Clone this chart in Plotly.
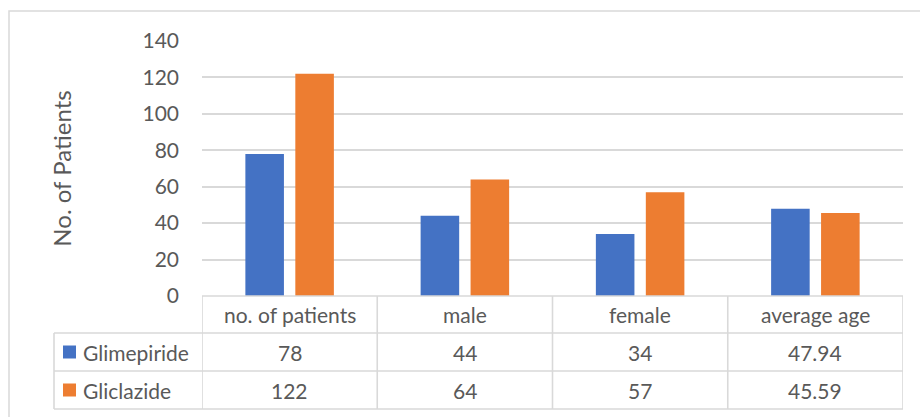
import plotly.graph_objects as go

# Chart data
categories = ["no. of patients", "male", "female", "average age"]
series_names = ["Glimepiride", "Gliclazide"]
glimepiride = [78, 44, 34, 47.94]
gliclazide = [122, 64, 57, 45.59]
y_ticks = [0, 20, 40, 60, 80, 100, 120, 140]

colors = ["#4472C4", "#ED7D31"]
series_values = [glimepiride, gliclazide]

W, H = 920, 417
L, R, T, B = 202, 17, 41, 121
PW, PH = W - L - R, H - T - B

FONT = "Lato"
TXT = "#595959"
GRID = "#d9d9d9"


def py(p):
    """Pixel row -> paper y."""
    return (H - B - p) / PH


def px(p):
    """Pixel column -> paper x."""
    return (p - L) / PW


fig = go.Figure()
for name, vals, col in zip(series_names, series_values, colors):
    fig.add_trace(go.Bar(
        x=categories, y=vals, name=name,
        marker=dict(color=col, line=dict(width=0)),
        showlegend=False,
    ))

shapes = []
annotations = []

# Outer chart frame
shapes.append(dict(type="rect", xref="paper", yref="paper",
                   x0=px(9), x1=px(921), y0=py(11), y1=py(420),
                   line=dict(color=GRID, width=1.5), fillcolor="rgba(0,0,0,0)",
                   layer="below"))

# Data table rows (header row bottom, row separators)
row_tops = [296, 333, 371, 409]
for i, r in enumerate(row_tops):
    x0 = px(202) if i == 0 else px(54)
    shapes.append(dict(type="line", xref="paper", yref="paper",
                       x0=x0, x1=px(903), y0=py(r), y1=py(r),
                       line=dict(color=GRID, width=1.6)))

# Column separators at category boundaries
n = len(categories)
for k in range(n + 1):
    shapes.append(dict(type="line", xref="x", yref="paper",
                       x0=k - 0.5, x1=k - 0.5, y0=py(296), y1=py(409),
                       line=dict(color=GRID, width=1.6)))
# Left edge of the series-name column
shapes.append(dict(type="line", xref="paper", yref="paper",
                   x0=px(54), x1=px(54), y0=py(333), y1=py(409),
                   line=dict(color=GRID, width=1.6)))

font_cell = dict(family=FONT, size=21, color=TXT)

# Header cells
for c in categories:
    annotations.append(dict(x=c, xref="x", y=py(314.5), yref="paper",
                            text=c, showarrow=False, font=font_cell,
                            xanchor="center", yanchor="middle"))

# Series rows: legend key, name and values
row_centers = [352, 390]
for name, vals, col, yc in zip(series_names, series_values, colors, row_centers):
    shapes.append(dict(type="rect", xref="paper", yref="paper",
                       x0=px(63), x1=px(76), y0=py(yc - 6.5), y1=py(yc + 6.5),
                       fillcolor=col, line=dict(width=0)))
    annotations.append(dict(x=px(81), xref="paper", y=py(yc), yref="paper",
                            text=name, showarrow=False, font=font_cell,
                            xanchor="left", yanchor="middle"))
    for c, v in zip(categories, vals):
        annotations.append(dict(x=c, xref="x", y=py(yc), yref="paper",
                                text=f"{v:g}", showarrow=False, font=font_cell,
                                xanchor="center", yanchor="middle"))

fig.update_layout(
    width=W, height=H,
    margin=dict(l=L, r=R, t=T, b=B, autoexpand=False),
    paper_bgcolor="white", plot_bgcolor="white",
    barmode="group", bargap=0.43, bargroupgap=0.228,
    font=dict(family=FONT, color=TXT),
    shapes=shapes, annotations=annotations,
)
fig.update_xaxes(range=[-0.5, n - 0.5], showticklabels=False, showgrid=False,
                 zeroline=False, showline=False, fixedrange=True)
fig.update_yaxes(range=[0, 140], tickvals=y_ticks, showgrid=True, gridcolor=GRID,
                 gridwidth=1.6, zeroline=False, showline=False,
                 tickfont=dict(family=FONT, size=21, color=TXT),
                 ticklabelstandoff=22,
                 title=dict(text="No. of Patients", standoff=64,
                            font=dict(family=FONT, size=24, color=TXT)))

fig.write_html("out.html")
